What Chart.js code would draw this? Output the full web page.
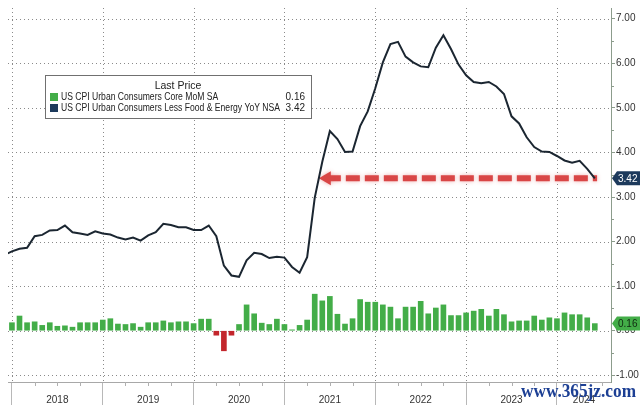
<!DOCTYPE html>
<html>
<head>
<meta charset="utf-8">
<script src="https://cdn.jsdelivr.net/npm/chart.js@4.4.1/dist/chart.umd.min.js"></script>
<style>
  html, body { margin: 0; padding: 0; background: #fff; }
</style>
</head>
<body>
<canvas id="cpi" width="640" height="405"></canvas>
<script>
// months counted from Jan 2018 (0 = end of Dec 2017)
const years = ['2018', '2019', '2020', '2021', '2022', '2023', '2024'];
const yTicks = [-1, 0, 1, 2, 3, 4, 5, 6, 7];

// Core CPI YoY NSA, Nov 2017 .. May 2024
const yoyStart = -1;
const coreYoY = [
  1.70, 1.78,
  1.84, 1.86, 2.12, 2.15, 2.25, 2.26, 2.36, 2.21, 2.18, 2.15, 2.23, 2.18,
  2.16, 2.09, 2.05, 2.09, 2.02, 2.14, 2.21, 2.40, 2.37, 2.32, 2.32, 2.26,
  2.26, 2.36, 2.12, 1.46, 1.24, 1.21, 1.58, 1.75, 1.72, 1.63, 1.66, 1.64,
  1.43, 1.30, 1.65, 2.98, 3.79, 4.48, 4.30, 4.01, 4.02, 4.59, 4.92, 5.44,
  6.02, 6.43, 6.48, 6.15, 6.02, 5.93, 5.91, 6.35, 6.63, 6.32, 5.97, 5.73,
  5.58, 5.55, 5.58, 5.48, 5.31, 4.81, 4.65, 4.34, 4.12, 4.02, 4.01, 3.92,
  3.82, 3.77, 3.81, 3.63, 3.42
];

// Core CPI MoM SA, Dec 2017 .. May 2024
const momStart = 0;
const coreMoM = [
  0.18,
  0.33, 0.18, 0.20, 0.12, 0.18, 0.10, 0.11, 0.08, 0.18, 0.18, 0.18, 0.24,
  0.27, 0.15, 0.14, 0.16, 0.08, 0.18, 0.18, 0.22, 0.18, 0.20, 0.20, 0.16,
  0.26, 0.26, -0.10, -0.45, -0.10, 0.14, 0.58, 0.38, 0.17, 0.14, 0.26, 0.14,
  0.02, 0.12, 0.24, 0.82, 0.67, 0.77, 0.37, 0.15, 0.27, 0.70, 0.64, 0.64,
  0.58, 0.53, 0.27, 0.53, 0.53, 0.66, 0.38, 0.51, 0.58, 0.34, 0.34, 0.40,
  0.44, 0.48, 0.33, 0.48, 0.36, 0.20, 0.22, 0.22, 0.33, 0.24, 0.29, 0.27,
  0.40, 0.36, 0.36, 0.29, 0.16
];

const momLabel = 'US CPI Urban Consumers Core MoM SA';
const yoyLabel = 'US CPI Urban Consumers Less Food & Energy YoY NSA';

const X_MIN = -0.52, X_MAX = 79.14;
const ARROW_FROM = 41.6;
const FONT = '"Liberation Sans", Arial, sans-serif';
const GREEN = '#43ad48', RED = '#c3262c', NAVY = '#1d3a5c', LINE = '#1b2631';

const lastMoM = coreMoM[coreMoM.length - 1];
const lastYoY = coreYoY[coreYoY.length - 1];
const lastMonth = yoyStart + coreYoY.length - 1;

const isBoundary = v => Math.abs(v % 12) < 1e-6;
const labelPos = years.map((y, i) => i < years.length - 1 ? i * 12 + 6 : (i * 12 + X_MAX) / 2);
const xTickVals = years.map((y, i) => i * 12).concat(labelPos);

const extras = {
  id: 'extras',
  beforeDraw(chart) {
    const c = chart.ctx;
    c.save();
    c.fillStyle = '#fff';
    c.fillRect(0, 0, chart.width, chart.height);
    c.restore();
  },
  beforeDatasetsDraw(chart) {
    // dotted grid
    const c = chart.ctx, a = chart.chartArea, x = chart.scales.x, y = chart.scales.y;
    c.save();
    c.strokeStyle = '#8a8a8a';
    c.lineWidth = 1;
    c.setLineDash([1, 3]);
    c.beginPath();
    yTicks.forEach(v => {
      const py = Math.round(y.getPixelForValue(v)) + 0.5;
      c.moveTo(a.left, py); c.lineTo(a.right, py);
    });
    years.forEach((yr, i) => {
      const px = Math.round(x.getPixelForValue(i * 12)) + 0.5;
      c.moveTo(px, a.top); c.lineTo(px, a.bottom);
    });
    c.stroke();
    c.restore();
  },
  beforeDatasetDraw(chart, args) {
    if (args.meta.label === 'arrow') {
      chart.ctx.save();
      chart.ctx.shadowColor = 'rgba(220,80,80,0.45)';
      chart.ctx.shadowBlur = 4;
    }
  },
  afterDatasetDraw(chart, args) {
    if (args.meta.label === 'arrow') chart.ctx.restore();
  },
  afterDraw(chart) {
    const c = chart.ctx, x = chart.scales.x, y = chart.scales.y;
    c.save();
    // minor ticks
    c.strokeStyle = '#8c9c8c';
    c.lineWidth = 1;
    c.beginPath();
    for (let v = -0.5; v < 7.2; v += 1) {
      const py = Math.round(y.getPixelForValue(v)) + 0.5;
      c.moveTo(y.left, py); c.lineTo(y.left + 3, py);
    }
    c.stroke();
    c.strokeStyle = '#b0b0b0';
    c.beginPath();
    for (let m = 3; m < X_MAX; m += 3) {
      if (isBoundary(m)) continue;
      const px = Math.round(x.getPixelForValue(m)) + 0.5;
      c.moveTo(px, x.top); c.lineTo(px, x.top + 4);
    }
    c.stroke();

    // last value tags on the axis
    const tag = (val, bg, fg) => {
      const py = y.getPixelForValue(val);
      const l = y.left + 1, h = 7;
      c.fillStyle = bg;
      c.beginPath();
      c.moveTo(l, py);
      c.lineTo(l + 5, py - h);
      c.lineTo(chart.width, py - h);
      c.lineTo(chart.width, py + h);
      c.lineTo(l + 5, py + h);
      c.closePath();
      c.fill();
      c.fillStyle = fg;
      c.font = '10px ' + FONT;
      c.textBaseline = 'middle';
      c.textAlign = 'left';
      c.fillText(val.toFixed(2), l + 6, py + 0.5);
    };
    tag(lastYoY, NAVY, '#fff');
    tag(lastMoM, GREEN, '#0f2a10');

    // legend box
    const bx = 45, by = 75, bw = 266, bh = 43;
    c.fillStyle = '#fff';
    c.fillRect(bx, by, bw, bh);
    c.strokeStyle = '#707070';
    c.lineWidth = 1;
    c.strokeRect(bx + 0.5, by + 0.5, bw, bh);
    c.fillStyle = '#222';
    c.textBaseline = 'middle';
    c.textAlign = 'center';
    c.font = '10.5px ' + FONT;
    c.fillText('Last Price', bx + 133, by + 11);
    c.font = '10px ' + FONT;
    const squeeze = 219 / c.measureText(yoyLabel).width;
    const rows = [[momLabel, lastMoM, GREEN], [yoyLabel, lastYoY, NAVY]];
    rows.forEach((r, i) => {
      const ry = by + 22 + i * 11;
      c.fillStyle = r[2];
      c.fillRect(bx + 5, ry - 4, 8, 8);
      c.fillStyle = '#222';
      c.textAlign = 'left';
      const w = c.measureText(r[0]).width;
      c.fillText(r[0], bx + 16, ry, w * squeeze);
      c.textAlign = 'right';
      c.fillText(r[1].toFixed(2), bx + bw - 6, ry);
    });

    // watermark
    c.fillStyle = '#1c3f94';
    c.font = 'bold 18px "Liberation Serif", serif';
    c.textAlign = 'left';
    c.textBaseline = 'alphabetic';
    c.fillText('www.365jz.com', 521, 397, 115);
    c.restore();
  }
};

new Chart(document.getElementById('cpi'), {
  type: 'bar',
  data: {
    datasets: [
      {
        type: 'line',
        label: yoyLabel,
        data: coreYoY.map((v, i) => ({ x: yoyStart + i, y: v })),
        borderColor: LINE,
        borderWidth: 2,
        pointRadius: 0,
        tension: 0,
        order: 0
      },
      {
        type: 'line',
        label: 'arrow',
        data: [{ x: ARROW_FROM, y: lastYoY }, { x: lastMonth + 0.3, y: lastYoY }],
        borderColor: '#d94646',
        backgroundColor: '#d94646',
        borderWidth: 6,
        borderDash: [14, 5],
        pointStyle: 'triangle',
        pointRotation: -90,
        pointRadius: [8, 0],
        pointBorderWidth: 0,
        order: 1
      },
      {
        type: 'bar',
        label: momLabel,
        data: coreMoM.map((v, i) => ({ x: momStart + i, y: v })),
        backgroundColor: ctx => (ctx.parsed && ctx.parsed.y < 0) ? RED : GREEN,
        barThickness: 5,
        order: 2
      }
    ]
  },
  options: {
    responsive: false,
    animation: false,
    layout: { padding: 0 },
    plugins: { legend: { display: false }, tooltip: { enabled: false } },
    scales: {
      x: {
        type: 'linear',
        min: X_MIN,
        max: X_MAX,
        offset: false,
        afterBuildTicks: s => { s.ticks = xTickVals.map(v => ({ value: v })); },
        afterFit: s => { s.height = 23; },
        grid: {
          offset: false,
          drawOnChartArea: false,
          tickColor: c => (c.tick && isBoundary(c.tick.value)) ? '#b8b8b8' : 'rgba(0,0,0,0)',
          tickLength: 23
        },
        border: { color: '#a8a8a8' },
        ticks: {
          autoSkip: false,
          maxRotation: 0,
          padding: -11,
          color: '#333',
          font: { size: 10, family: FONT },
          callback: v => {
            const i = labelPos.findIndex(p => Math.abs(p - v) < 1e-6);
            return i >= 0 ? years[i] : '';
          }
        }
      },
      y: {
        position: 'right',
        min: -1.15,
        max: 7.24,
        afterBuildTicks: s => { s.ticks = yTicks.map(v => ({ value: v })); },
        afterFit: s => { s.width = 29; },
        grid: { drawOnChartArea: false, tickColor: '#8c9c8c', tickLength: 4 },
        border: { color: '#8c9c8c' },
        ticks: {
          padding: 1,
          color: '#333',
          font: { size: 10, family: FONT },
          callback: v => v.toFixed(2)
        }
      }
    }
  },
  plugins: [extras]
});
</script>
</body>
</html>
